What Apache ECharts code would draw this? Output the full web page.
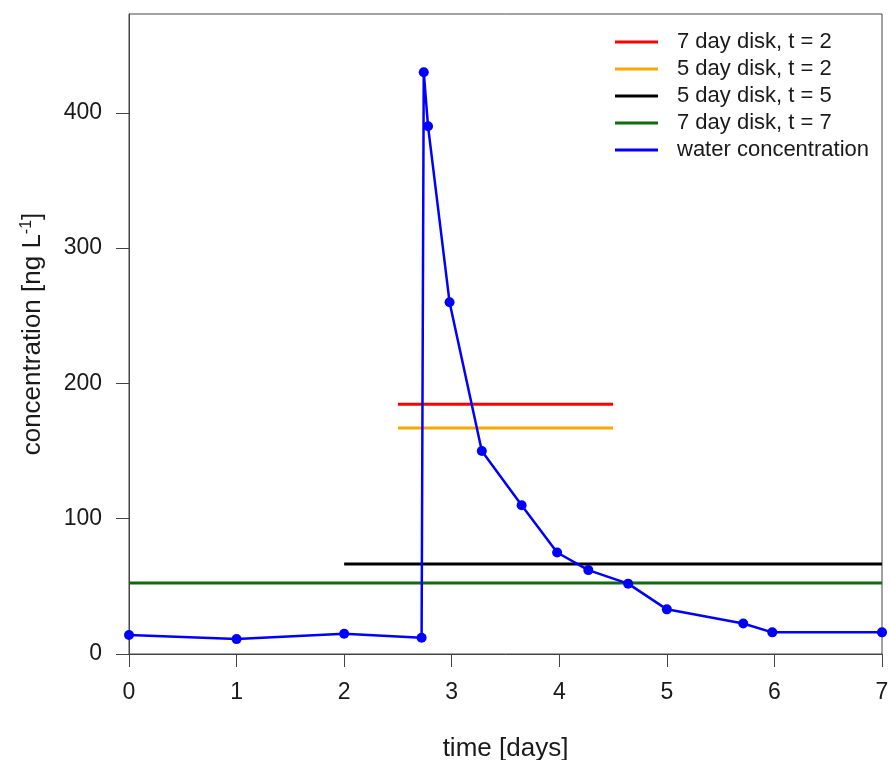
<!DOCTYPE html>
<html>
<head>
<meta charset="utf-8">
<script src="https://cdn.jsdelivr.net/npm/echarts@6/dist/echarts.min.js"></script>
<style>html,body{margin:0;padding:0;background:#fff;}#chart{width:889px;height:760px;}</style>
</head>
<body>
<div id="chart"></div>
<script>
// water concentration time series
const waterTime = [0, 1.0, 2.0, 2.72, 2.74, 2.78, 2.98, 3.28, 3.65, 3.98, 4.27, 4.64, 5.0, 5.71, 5.98, 7];
const waterConc = [14, 11, 15, 12, 430, 390, 260, 150, 110, 75, 62, 52, 33, 22.5, 16, 16];

// disk-derived horizontal lines: [xStart, xEnd], value
const disk7t2Range = [2.5, 4.5];  const disk7t2Value = 184.5;
const disk5t2Range = [2.5, 4.5];  const disk5t2Value = 167;
const disk5t5Range = [2.0, 7];    const disk5t5Value = 66.5;
const disk7t7Range = [0, 7];      const disk7t7Value = 52.5;

const legendNames = ['7 day disk, t = 2', '5 day disk, t = 2', '5 day disk, t = 5', '7 day disk, t = 7', 'water concentration'];
const xTicks = [0, 1, 2, 3, 4, 5, 6, 7];
const yTicks = [0, 100, 200, 300, 400];
const yMax = 473;

const FONT = 'Liberation Sans, Arial, Helvetica, sans-serif';
const colors = ['#ff0000', '#ffa500', '#000000', '#0b6e0b', '#0000ff'];

function hline(range, v) { return [[range[0], v], [range[1], v]]; }

const chart = echarts.init(document.getElementById('chart'), null, {renderer: 'canvas'});
chart.setOption({
  animation: false,
  backgroundColor: '#ffffff',
  textStyle: {fontFamily: FONT},
  grid: {left: 129, top: 14, right: 7, bottom: 106, show: true, borderColor: '#444', borderWidth: 1,
    containLabel: false, outerBoundsMode: 'none'},
  legend: {
    orient: 'vertical', left: 610, top: 26,
    itemWidth: 43, itemHeight: 3, itemGap: 5,
    textStyle: {fontFamily: FONT, fontSize: 22, color: '#1a1a1a', padding: [0, 0, 0, 14]},
    data: legendNames.map(n => ({name: n, icon: 'rect'}))
  },
  xAxis: {
    type: 'value', min: 0, max: 7, interval: 1,
    name: 'time [days]', nameLocation: 'middle', nameGap: 82,
    nameTextStyle: {fontFamily: FONT, fontSize: 26, color: '#1a1a1a'},
    axisLine: {show: true, lineStyle: {color: '#444', width: 1}},
    axisTick: {show: true, inside: false, length: 13, lineStyle: {color: '#444'}, customValues: xTicks},
    axisLabel: {fontFamily: FONT, fontSize: 23, color: '#1a1a1a', margin: 27, customValues: xTicks},
    splitLine: {show: false}
  },
  yAxis: {
    type: 'value', min: 0, max: yMax,
    name: 'concentration [ng L{sup|-1}]', nameLocation: 'middle', nameGap: 82,
    nameTextStyle: {fontFamily: FONT, fontSize: 26, color: '#1a1a1a',
      rich: {sup: {fontSize: 16, color: '#1a1a1a', verticalAlign: 'top', padding: [0, 0, 12, 0]}}},
    axisLine: {show: true, lineStyle: {color: '#444', width: 1}},
    axisTick: {show: true, inside: false, length: 13, lineStyle: {color: '#444'}, customValues: yTicks},
    axisLabel: {fontFamily: FONT, fontSize: 23, color: '#1a1a1a', margin: 27, customValues: yTicks},
    splitLine: {show: false}
  },
  series: [
    {name: legendNames[0], type: 'line', data: hline(disk7t2Range, disk7t2Value), symbol: 'none', lineStyle: {color: colors[0], width: 3}, itemStyle: {color: colors[0]}},
    {name: legendNames[1], type: 'line', data: hline(disk5t2Range, disk5t2Value), symbol: 'none', lineStyle: {color: colors[1], width: 3}, itemStyle: {color: colors[1]}},
    {name: legendNames[2], type: 'line', data: hline(disk5t5Range, disk5t5Value), symbol: 'none', lineStyle: {color: colors[2], width: 3}, itemStyle: {color: colors[2]}},
    {name: legendNames[3], type: 'line', data: hline(disk7t7Range, disk7t7Value), symbol: 'none', lineStyle: {color: colors[3], width: 3}, itemStyle: {color: colors[3]}},
    {name: legendNames[4], type: 'line', data: waterTime.map((t, i) => [t, waterConc[i]]),
      symbol: 'circle', symbolSize: 10, showAllSymbol: true, z: 5,
      lineStyle: {color: colors[4], width: 2.5}, itemStyle: {color: colors[4]}}
  ]
});
</script>
</body>
</html>
